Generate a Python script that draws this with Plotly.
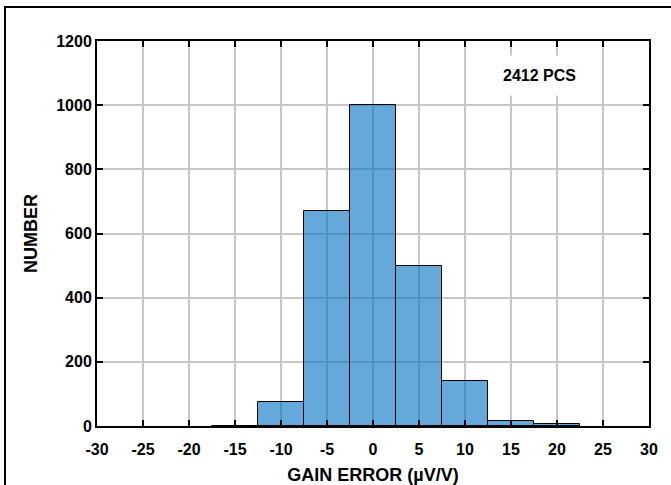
import plotly.graph_objects as go

bin_centers = [-15, -10, -5, 0, 5, 10, 15, 20]
counts = [1, 76, 670, 1002, 500, 140, 16, 5]
x_ticks = list(range(-30, 31, 5))
y_ticks = list(range(0, 1201, 200))
annotation_text = "2412 PCS"

FONT = "Liberation Sans Narrow, Arial Narrow, Liberation Sans, Arial"

fig = go.Figure()
fig.add_trace(go.Bar(
    x=bin_centers, y=counts, width=5,
    marker=dict(color="rgba(5,116,194,0.62)", line=dict(color="black", width=1)),
    showlegend=False, hoverinfo="skip",
))

L, R, T, B = 97, 22, 41, 59
W, H = 671, 485

axis_common = dict(
    showline=True, linecolor="black", linewidth=2, mirror="ticks",
    ticks="inside", ticklen=6, tickwidth=2, tickcolor="black",
    showgrid=True, gridcolor="#c6c6c6", gridwidth=1.5,
    zeroline=False, automargin=False,
    tickfont=dict(family=FONT, size=16, color="black", weight="bold"),
)

fig.update_xaxes(range=[-30, 30], tickvals=x_ticks, ticktext=[str(v) for v in x_ticks],
                 ticklabelstandoff=8,
                 title=dict(text="GAIN ERROR (µV/V)", standoff=14,
                            font=dict(family=FONT, size=18, color="black", weight="bold")),
                 **axis_common)
fig.update_yaxes(range=[0, 1200], tickvals=y_ticks, ticktext=[str(v) for v in y_ticks],
                 title=dict(text="NUMBER", standoff=14,
                            font=dict(family=FONT, size=18, color="black", weight="bold")),
                 **axis_common)

fig.add_annotation(x=18.15, y=1094, text=annotation_text, showarrow=False,
                   bgcolor="white", borderpad=11,
                   font=dict(family=FONT, size=16, color="black", weight="bold"))

fig.update_layout(
    width=W, height=H,
    margin=dict(l=L, r=R, t=T, b=B),
    plot_bgcolor="white", paper_bgcolor="white",
    bargap=0,
)

# outer frame (left and top edges of the enclosing box)
frame_js = (
    "document.body.style.margin='0';document.body.style.overflow='hidden';"
    "var f=document.createElement('div');"
    "f.style.cssText='position:fixed;left:4px;top:6px;width:2000px;height:2000px;"
    "border-left:2px solid black;border-top:2px solid black;pointer-events:none;z-index:10';"
    "document.body.appendChild(f);"
)

fig.write_html("out.html", config={"displayModeBar": False}, post_script=frame_js)
